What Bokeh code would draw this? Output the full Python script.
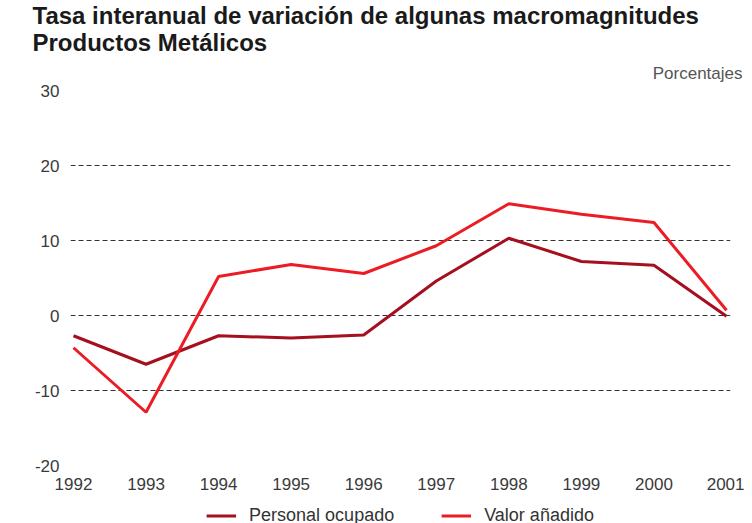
from bokeh.plotting import figure
from bokeh.models import (Title, Legend, LegendItem, FixedTicker, Range1d, ColumnDataSource)
from bokeh.layouts import column
from bokeh.embed import file_html
from bokeh.resources import INLINE

# ---- data ----
years = [1992, 1993, 1994, 1995, 1996, 1997, 1998, 1999, 2000, 2001]
personal_ocupado = [-2.7, -6.5, -2.7, -3.0, -2.6, 4.6, 10.3, 7.2, 6.7, -0.1]
valor_anadido = [-4.3, -12.9, 5.2, 6.8, 5.6, 9.3, 14.9, 13.5, 12.4, 0.7]
y_ticks = [-20, -10, 0, 10, 20, 30]
grid_ticks = [-10, 0, 10, 20]
title_lines = ["Tasa interanual de variación de algunas macromagnitudes", "Productos Metálicos"]
unit_label = "Porcentajes"
series_names = ["Personal ocupado", "Valor añadido"]

DARK = "#a50f1e"
RED = "#ec1c24"
FONT = "Liberation Sans"

src = ColumnDataSource(dict(x=years, po=personal_ocupado, va=valor_anadido))

p = figure(frame_width=660, frame_height=375, output_backend="svg", toolbar_location=None,
           title=None, min_border_left=70, min_border_right=14, min_border_top=90,
           min_border_bottom=32)
p.x_range = Range1d(1991.959, 2001.055)
p.y_range = Range1d(-20, 30)
p.outline_line_color = None
p.background_fill_color = "white"
p.border_fill_color = "white"

p.line("x", "po", source=src, line_color=DARK, line_width=3)
p.line("x", "va", source=src, line_color=RED, line_width=3)

# axes
p.xaxis.ticker = FixedTicker(ticks=years)
p.yaxis.ticker = FixedTicker(ticks=y_ticks)
p.yaxis.major_label_overrides = {t: str(t) for t in y_ticks}
for ax in (p.xaxis[0], p.yaxis[0]):
    ax.axis_line_color = None
    ax.major_tick_line_color = None
    ax.minor_tick_line_color = None
    ax.major_label_text_font = FONT
    ax.major_label_text_font_size = "17px"
    ax.major_label_text_color = "#3a3a3a"
p.xaxis.major_label_standoff = 6
p.yaxis.major_label_standoff = 5

p.xgrid.grid_line_color = None
p.ygrid.ticker = FixedTicker(ticks=grid_ticks)
p.ygrid.grid_line_color = "#333333"
p.ygrid.grid_line_dash = "5 3"
p.ygrid.grid_line_width = 1

# unit label (closest to frame), then main title above it
p.add_layout(Title(text=unit_label, align="right", offset=-12, standoff=15,
                   text_font=FONT, text_font_style="normal", text_font_size="17px",
                   text_color="#555555"), "above")
p.add_layout(Title(text=title_lines[0] + "\n" + title_lines[1], align="left", offset=-38,
                   standoff=-2, text_font=FONT, text_font_style="bold", text_font_size="24px",
                   text_color="#1a1a1a", text_line_height=1.0), "above")

# ---- legend strip below the chart ----
lg = figure(width=744, height=36, output_backend="svg", toolbar_location=None, title=None,
            x_axis_location=None, y_axis_location=None,
            min_border_left=70, min_border_right=0, min_border_top=0, min_border_bottom=0)
lg.x_range = Range1d(1991.959, 2001.055)
lg.y_range = Range1d(1000, 1001)   # keeps the series out of view; only the key is shown
lg.outline_line_color = None
lg.xgrid.visible = False
lg.ygrid.visible = False
k1 = lg.line("x", "po", source=src, line_color=DARK, line_width=3)
k2 = lg.line("x", "va", source=src, line_color=RED, line_width=3)
legend = Legend(items=[LegendItem(label=series_names[0], renderers=[k1]),
                       LegendItem(label=series_names[1], renderers=[k2])],
                orientation="horizontal", location="center",
                border_line_color=None, background_fill_alpha=0,
                label_text_font=FONT, label_text_font_size="18px", label_text_color="#333333",
                glyph_width=30, glyph_height=16, label_standoff=13, spacing=47,
                padding=0, margin=0)
lg.add_layout(legend, "center")

layout = column(p, lg, spacing=0)
open("out.html", "w").write(file_html(layout, INLINE))
